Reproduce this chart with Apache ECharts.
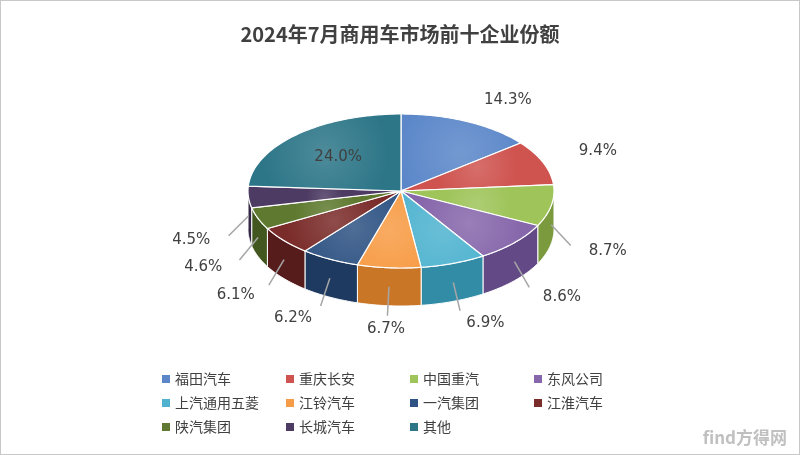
<!DOCTYPE html>
<html><head><meta charset="utf-8">
<script src="https://cdn.jsdelivr.net/npm/echarts@6/dist/echarts.min.js"></script>
<style>html,body{margin:0;padding:0;background:#fff}#c{width:800px;height:455px;box-sizing:border-box;border:1px solid #c8c8c8}</style>
</head><body><div id="c"></div>
<script>
const categories=['福田汽车','重庆长安','中国重汽','东风公司','上汽通用五菱','江铃汽车','一汽集团','江淮汽车','陕汽集团','长城汽车','其他'];
const values=[14.3,9.4,8.7,8.6,6.9,6.7,6.2,6.1,4.6,4.5,24.0];
const colors=['#5b87c9','#cf5450','#9fc45a','#8767ab','#4fb3cf','#f79c46','#2f5383','#7a2c2a','#5f7a30','#4d3b63','#2d7688'];
const sides=['#3f6aa6','#a53b38','#7a9a3d','#634985','#338ca6','#c97626','#1e3a60','#561c1b','#42571f','#342745','#1d5563'];
const cx=400,cy=190,rx=153,ry=77,depth=38;
const total=values.reduce((a,b)=>a+b,0);
const starts=[];let acc=0;values.forEach(v=>{starts.push(acc/total*Math.PI*2);acc+=v;});
function pt(t,dy){return [cx+rx*Math.sin(t),cy-ry*Math.cos(t)+(dy||0)];}
function lighten(c,f){const n=parseInt(c.slice(1),16);let r=n>>16,g=(n>>8)&255,b=n&255;r=Math.round(r+(255-r)*f);g=Math.round(g+(255-g)*f);b=Math.round(b+(255-b)*f);return 'rgb('+r+','+g+','+b+')';}
function renderItem(params,api){
  const i=params.dataIndex;const a0=starts[i],a1=a0+values[i]/total*Math.PI*2;
  const children=[];
  const top=[[cx,cy]];for(let k=0;k<=60;k++){top.push(pt(a0+(a1-a0)*k/60));}
  const s0=Math.max(a0,Math.PI/2),s1=Math.min(a1,Math.PI*1.5);
  if(s1>s0){const p=[];for(let k=0;k<=40;k++)p.push(pt(s0+(s1-s0)*k/40));for(let k=40;k>=0;k--)p.push(pt(s0+(s1-s0)*k/40,depth));
    children.push({type:'polygon',z2:1,shape:{points:p},style:{fill:sides[i],stroke:'#fff',lineWidth:1}});}
  children.push({type:'polygon',z2:10,shape:{points:top},style:{fill:{type:'radial',x:0.5,y:0.5,r:0.8,colorStops:[{offset:0,color:lighten(colors[i],0.15)},{offset:1,color:colors[i]}]},stroke:'#fff',lineWidth:1.2}});
  const m=(a0+a1)/2;const txt=values[i].toFixed(1)+'%';
  if(i===categories.length-1){const p=[cx+rx*0.6*Math.sin(m),cy-ry*0.6*Math.cos(m)];
    children.push({type:'text',z2:20,style:{x:p[0],y:p[1],text:txt,fill:'#404040',font:'15px "DejaVu Sans"',align:'center',verticalAlign:'middle'}});}
  else{const low=Math.cos(m)<0;const dy=low?depth*0.5:0;const e=pt(m,dy);
    const f=1.25;const lp=[cx+rx*f*Math.sin(m),cy-ry*f*Math.cos(m)+(low?depth+4:-4)];
    if(values[i]<9||i===2){children.push({type:'polyline',z2:20,shape:{points:[e,[cx+rx*1.13*Math.sin(m),cy-ry*1.13*Math.cos(m)+(low?depth:0)]]},style:{stroke:'#a6a6a6',lineWidth:1.5}});}
    children.push({type:'text',z2:20,style:{x:lp[0],y:lp[1],text:txt,fill:'#404040',font:'15px "DejaVu Sans"',align:Math.sin(m)>0.2?'left':(Math.sin(m)<-0.2?'right':'center'),verticalAlign:'middle'}});}
  return {type:'group',children};
}
const legends=categories.map((c,i)=>({data:[c],left:156+(i%4)*124,top:366+Math.floor(i/4)*24,itemWidth:8,itemHeight:8,icon:'rect',itemGap:6,
  textStyle:{fontSize:14,color:'#404040',fontFamily:'"Noto Sans CJK SC"'}}));
const chart=echarts.init(document.getElementById('c'));
chart.setOption({
  animation:false,
  title:{text:'2024年7月商用车市场前十企业份额',left:'center',top:18,textStyle:{fontSize:20,fontWeight:'bold',color:'#404040',fontFamily:'"Noto Sans CJK SC"'}},
  legend:legends,
  graphic:[{type:'text',right:12,bottom:8,style:{text:'find方得网',fill:'#c0c0c0',font:'bold 17px "Noto Sans CJK SC"'}}],
  series:[
    {type:'pie',radius:[0,0],center:[-100,-100],label:{show:false},labelLine:{show:false},color:colors,data:categories.map((c,i)=>({name:c,value:values[i]}))},
    {type:'custom',renderItem,data:values.map((v,i)=>[i,v]),coordinateSystem:'none'}
  ]
});
</script></body></html>
